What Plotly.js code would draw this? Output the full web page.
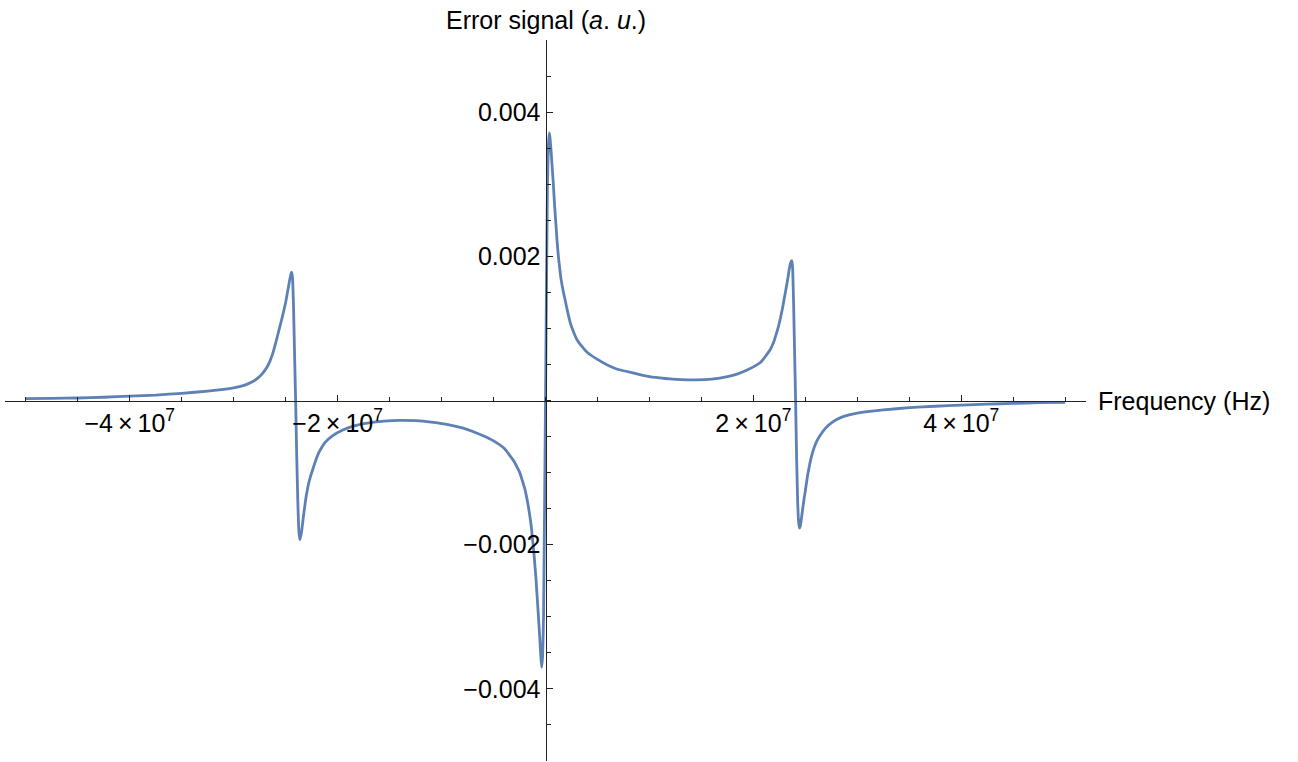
<!DOCTYPE html>
<html>
<head>
<meta charset="utf-8">
<script src="https://cdn.plot.ly/plotly-3.0.1.min.js"></script>
<style>
  html, body { margin: 0; padding: 0; background: #fff; }
  #plot { width: 1298px; height: 762px; }
</style>
</head>
<body>
<div id="plot"></div>
<script>
// Frequency detuning (Hz)
const frequency = [
  -50e6, -47.5e6, -45e6, -42.5e6, -40e6, -37.5e6, -35e6, -32.5e6, -30e6, -29e6,
  -28.2e6, -27.6e6, -27.2e6, -26.8e6, -26.5e6, -26.2e6, -25.9e6, -25.6e6, -25.3e6, -25.0e6,
  -24.8e6, -24.6e6, -24.5e6, -24.43e6, -24.35e6, -24.25e6, -24.15e6, -24.04e6, -23.93e6, -23.83e6,
  -23.74e6, -23.65e6, -23.56e6, -23.45e6, -23.3e6, -23.18e6, -23.07e6, -22.95e6, -22.8e6, -22.6e6,
  -22.4e6, -22.1e6, -21.8e6, -21.5e6, -21.2e6, -20.5e6, -19.5e6, -18.5e6, -17e6, -15.5e6,
  -14e6, -12.5e6, -11e6, -9.5e6, -8e6, -7e6, -6e6, -5e6, -4e6, -3.5e6,
  -3e6, -2.75e6, -2.5e6, -2.25e6, -2e6, -1.83e6, -1.66e6, -1.53e6, -1.4e6, -1.29e6,
  -1.18e6, -1.09e6, -1.0e6, -0.92e6, -0.85e6, -0.78e6, -0.7e6, -0.62e6, -0.55e6, -0.45e6,
  -0.37e6, -0.28e6, -0.185e6, 0, 0.185e6, 0.28e6, 0.37e6, 0.45e6, 0.55e6, 0.65e6,
  0.75e6, 0.87e6, 1.0e6, 1.12e6, 1.24e6, 1.37e6, 1.5e6, 1.7e6, 1.88e6, 2.1e6,
  2.4e6, 2.7e6, 3.0e6, 3.5e6, 4.0e6, 5.0e6, 6.0e6, 7.0e6, 8.5e6, 10e6,
  11.5e6, 13e6, 14.5e6, 16e6, 17.5e6, 18.5e6, 19.5e6, 20.3e6, 20.7e6, 21.0e6,
  21.3e6, 21.6e6, 21.8e6, 22.0e6, 22.2e6, 22.4e6, 22.6e6, 22.8e6, 22.95e6, 23.1e6,
  23.3e6, 23.45e6, 23.58e6, 23.69e6, 23.77e6, 23.86e6, 23.96e6, 24.06e6, 24.16e6, 24.26e6,
  24.35e6, 24.43e6, 24.52e6, 24.6e6, 24.7e6, 24.8e6, 24.9e6, 25.0e6, 25.12e6, 25.24e6,
  25.37e6, 25.5e6, 25.7e6, 25.9e6, 26.15e6, 26.4e6, 26.9e6, 27.6e6, 28.5e6, 30e6,
  32.5e6, 35e6, 37.5e6, 40e6, 42.5e6, 45e6, 47.5e6, 50e6
];

// Error signal (a.u.) at each frequency
const errorSignal = [
  0.000025, 0.00003, 0.000035, 0.000045, 0.00006, 0.000075, 0.0001, 0.00013, 0.000175, 0.00021,
  0.00026, 0.00032, 0.00038, 0.00046, 0.00055, 0.00067, 0.00083, 0.001, 0.00117, 0.00136,
  0.00152, 0.00168, 0.00175, 0.00178, 0.00172, 0.00135, 0.0007, 0.0, -0.0008, -0.0014,
  -0.00178, -0.00193, -0.00189, -0.0018, -0.00162, -0.00149, -0.00137, -0.00127, -0.00116, -0.00105,
  -0.00096, -0.00083, -0.00072, -0.000645, -0.00058, -0.00049, -0.00041, -0.000355, -0.00031, -0.000285,
  -0.000275, -0.00028, -0.0003, -0.00033, -0.00038, -0.00043, -0.00049, -0.00056, -0.00066, -0.00075,
  -0.00085, -0.00092, -0.00099, -0.0011, -0.00122, -0.00133, -0.00146, -0.00158, -0.00171, -0.00186,
  -0.00202, -0.00216, -0.00232, -0.00246, -0.00262, -0.00277, -0.00295, -0.00313, -0.0033, -0.00355,
  -0.0037, -0.00355, -0.00296, 0.0, 0.00296, 0.00355, 0.00371, 0.00362, 0.00343, 0.00322,
  0.00301, 0.00272, 0.00245, 0.0022, 0.002, 0.00183, 0.00168, 0.00152, 0.0014, 0.00125,
  0.00107, 0.00095, 0.00085, 0.00075, 0.00067, 0.00057, 0.00049, 0.00043, 0.00038, 0.00033,
  0.000305, 0.00029, 0.000285, 0.000295, 0.00033, 0.00037, 0.00043, 0.00049, 0.00053, 0.00058,
  0.00064, 0.0007, 0.00076, 0.00083, 0.00092, 0.00102, 0.00114, 0.00128, 0.0014, 0.00152,
  0.00168, 0.00182, 0.00191, 0.00194, 0.00185, 0.0014, 0.0007, 0.0, -0.0008, -0.0014,
  -0.00168, -0.00177, -0.00174, -0.00166, -0.00155, -0.00144, -0.00134, -0.00125, -0.00113, -0.00102,
  -0.00092, -0.00083, -0.00072, -0.00063, -0.00055, -0.00049, -0.00039, -0.0003, -0.00023, -0.000175,
  -0.00013, -0.0001, -0.00008, -0.000065, -0.00005, -0.00004, -0.00003, -0.000025
];

const xTickVals = [-4e7, -2e7, 2e7, 4e7];
const xTickText = [
  "\u22124\u2009\u00d7\u200910<sup>7</sup>",
  "\u22122\u2009\u00d7\u200910<sup>7</sup>",
  "2\u2009\u00d7\u200910<sup>7</sup>",
  "4\u2009\u00d7\u200910<sup>7</sup>"
];
const yTickVals = [-0.004, -0.002, 0.002, 0.004];
const yTickText = ["\u22120.004", "\u22120.002", "0.002", "0.004"];

const fontFamily = "Liberation Sans, Arial, sans-serif";
const axisColor = "#222";

const trace = {
  x: frequency,
  y: errorSignal,
  mode: "lines",
  line: { color: "#5e81b5", width: 2.8, shape: "spline", smoothing: 0.4 },
  hoverinfo: "skip",
};

const layout = {
  width: 1298,
  height: 762,
  margin: { l: 5, r: 212, t: 40, b: 1 },
  paper_bgcolor: "#fff",
  plot_bgcolor: "#fff",
  showlegend: false,
  font: { family: fontFamily, size: 25, color: "#000" },
  xaxis: {
    range: [-5.2e7, 5.2e7],
    anchor: "free",
    position: 0.5,
    showline: true,
    linecolor: axisColor,
    linewidth: 1,
    showgrid: false,
    zeroline: false,
    ticks: "inside",
    ticklen: 6,
    tickcolor: axisColor,
    tickwidth: 1,
    tickmode: "array",
    tickvals: xTickVals,
    ticktext: xTickText,
    tickfont: { family: fontFamily, size: 25, color: "#000" },
    minor: { tickmode: "linear", tick0: 0, dtick: 5e6, ticks: "inside", ticklen: 4, tickcolor: axisColor, tickwidth: 1 },
  },
  yaxis: {
    range: [-0.005, 0.005],
    anchor: "free",
    position: 0.5,
    showline: true,
    linecolor: axisColor,
    linewidth: 1,
    showgrid: false,
    zeroline: false,
    ticks: "inside",
    ticklen: 6,
    tickcolor: axisColor,
    tickwidth: 1,
    tickmode: "array",
    tickvals: yTickVals,
    ticktext: yTickText,
    tickfont: { family: fontFamily, size: 25, color: "#000" },
    minor: { tickmode: "linear", tick0: 0, dtick: 0.0005, ticks: "inside", ticklen: 4, tickcolor: axisColor, tickwidth: 1 },
  },
  annotations: [
    {
      text: "Frequency (Hz)",
      xref: "x", yref: "y", x: 5.2e7, y: 0,
      xanchor: "left", yanchor: "middle", xshift: 10,
      showarrow: false,
      font: { family: fontFamily, size: 25, color: "#000" },
    },
    {
      text: "Error signal (<i>a</i>. <i>u</i>.)",
      xref: "x", yref: "y", x: 0, y: 0.005,
      xanchor: "center", yanchor: "bottom", yshift: 4,
      showarrow: false,
      font: { family: fontFamily, size: 25, color: "#000" },
    },
  ],
};

Plotly.newPlot("plot", [trace], layout, { displayModeBar: false, staticPlot: true });
</script>
</body>
</html>
